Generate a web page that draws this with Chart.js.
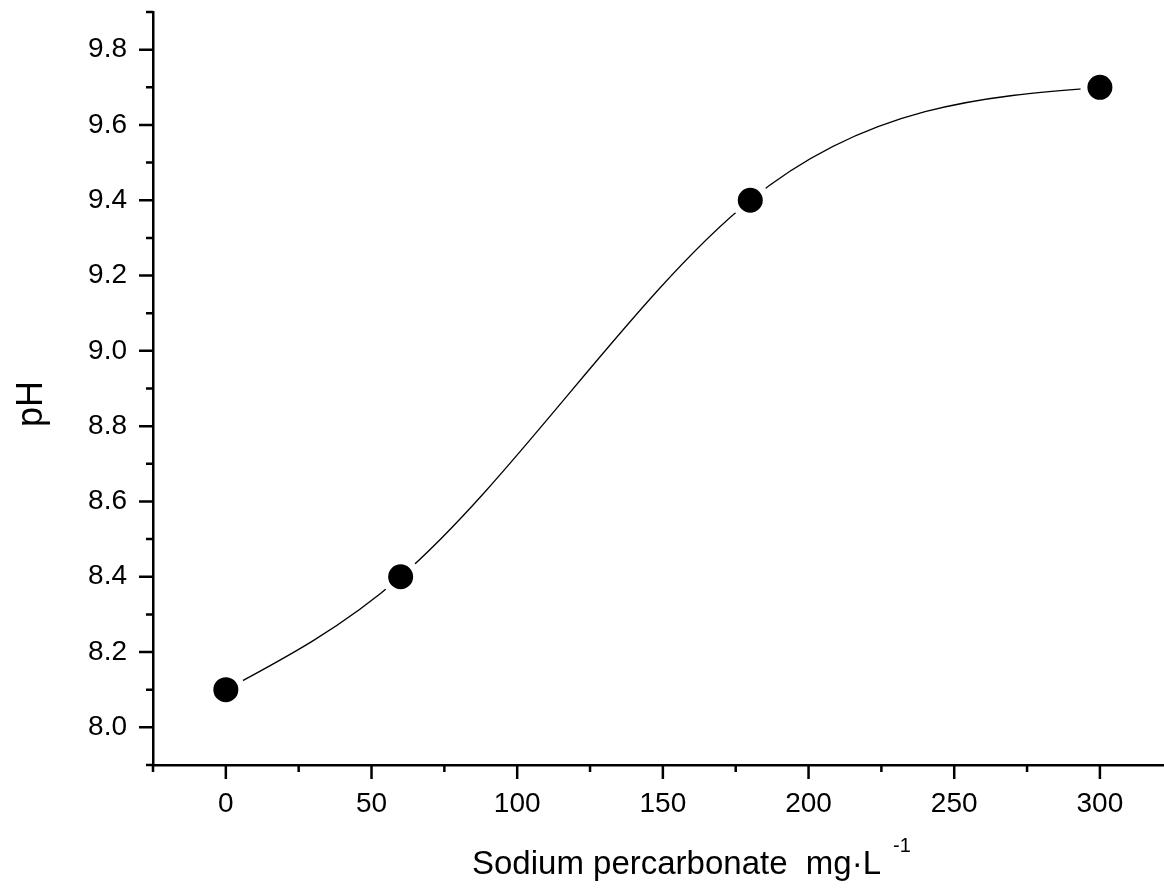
<!DOCTYPE html>
<html>
<head>
<meta charset="utf-8">
<script src="https://cdn.jsdelivr.net/npm/chart.js@4"></script>
<style>
html,body{margin:0;padding:0;background:#fff}
#c{display:block}
</style>
</head>
<body>
<canvas id="c" width="1164" height="890"></canvas>
<script>
// data
const dose=[0,60,180,300];
const ph=[8.1,8.4,9.4,9.7];
const xTicks=[-25,0,25,50,75,100,125,150,175,200,225,250,275,300];
const yTicks=[7.9,8.0,8.1,8.2,8.3,8.4,8.5,8.6,8.7,8.8,8.9,9.0,9.1,9.2,9.3,9.4,9.5,9.6,9.7,9.8,9.9];
const xTitle='Sodium percarbonate  mg\u00b7L';
const xTitleSup='-1';
const yTitle='pH';

const FONT='"Liberation Sans", Arial, sans-serif';

// slopes of a natural cubic spline through (xs, ys)
function splineSlopes(xs,ys){
  const n=xs.length,h=[],d=[];
  for(let i=0;i<n-1;i++){h.push(xs[i+1]-xs[i]);d.push((ys[i+1]-ys[i])/h[i]);}
  const M=new Array(n).fill(0);
  const a=[],b=[],c=[],r=[];
  for(let i=1;i<n-1;i++){a.push(h[i-1]);b.push(2*(h[i-1]+h[i]));c.push(h[i]);r.push(6*(d[i]-d[i-1]));}
  const m=b.length;
  for(let i=1;i<m;i++){const w=a[i]/b[i-1];b[i]-=w*c[i-1];r[i]-=w*r[i-1];}
  for(let i=m-1;i>=0;i--){M[i+1]=(r[i]-(i<m-1?c[i]*M[i+2]:0))/b[i];}
  const s=[];
  for(let i=0;i<n-1;i++)s.push(d[i]-h[i]*(2*M[i]+M[i+1])/6);
  s.push(d[n-2]+h[n-2]*(2*M[n-1]+M[n-2])/6);
  return s;
}

// line drawn by Chart.js, with bezier handles taken from a natural spline
const naturalSpline={
  id:'naturalSpline',
  beforeDatasetDraw(chart,args){
    const meta=args.meta,line=meta.dataset;
    if(!line)return;
    const {x,y}=chart.scales;
    line.updateControlPoints(chart.chartArea,'x');
    const sl=splineSlopes(dose,ph);
    const pts=meta.data;
    for(let i=0;i<pts.length;i++){
      if(i<pts.length-1){
        const h=(dose[i+1]-dose[i])/3;
        pts[i].cp2x=x.getPixelForValue(dose[i]+h);
        pts[i].cp2y=y.getPixelForValue(ph[i]+sl[i]*h);
      }
      if(i>0){
        const h=(dose[i]-dose[i-1])/3;
        pts[i].cp1x=x.getPixelForValue(dose[i]-h);
        pts[i].cp1y=y.getPixelForValue(ph[i]-sl[i]*h);
      }
    }
    line._path=undefined;
  }
};

// outward tick marks (long/short) + axis titles
const axisMarks={
  id:'axisMarks',
  afterDraw(chart){
    const {ctx,chartArea:a,scales:{x,y}}=chart;
    ctx.save();
    ctx.strokeStyle='#000';
    ctx.lineWidth=2.5;
    ctx.beginPath();
    xTicks.forEach(v=>{
      const px=x.getPixelForValue(v);
      const len=v%50===0?14:7;
      ctx.moveTo(px,a.bottom);ctx.lineTo(px,a.bottom+len);
    });
    yTicks.forEach(v=>{
      const py=y.getPixelForValue(v);
      const len=Math.round(v*10)%2===0?14:7;
      ctx.moveTo(a.left,py);ctx.lineTo(a.left-len,py);
    });
    ctx.stroke();

    ctx.fillStyle='#000';
    ctx.textBaseline='alphabetic';
    ctx.textAlign='left';
    ctx.font='33px '+FONT;
    ctx.fillText(xTitle,472,874);
    const w=ctx.measureText(xTitle).width;
    ctx.font='20px '+FONT;
    ctx.fillText(xTitleSup,472+w+12,852);

    ctx.translate(42,404);
    ctx.rotate(-Math.PI/2);
    ctx.font='36px '+FONT;
    ctx.textAlign='center';
    ctx.fillText(yTitle,0,0);
    ctx.restore();
  }
};

function noPad(s){s.paddingTop=0;s.paddingBottom=0;s.paddingLeft=0;s.paddingRight=0;}

function drawChart(){
  const ctx=document.getElementById('c').getContext('2d');
  new Chart(ctx,{
    type:'line',
    data:{datasets:[{
      data:dose.map((d,i)=>({x:d,y:ph[i]})),
      borderColor:'#000',
      borderWidth:1.3,
      tension:0.4,
      fill:false,
      pointRadius:16,
      pointBorderWidth:7,
      pointBorderColor:'#fff',
      pointBackgroundColor:'#000'
    }]},
    options:{
      responsive:false,
      animation:false,
      events:[],
      layout:{autoPadding:false,padding:{top:12,right:0,bottom:0,left:0}},
      plugins:{legend:{display:false},tooltip:{enabled:false}},
      scales:{
        x:{
          type:'linear',min:-25,max:322,
          afterBuildTicks:s=>{s.ticks=xTicks.map(v=>({value:v}));},
          afterFit:s=>{s.height=125;noPad(s);},
          grid:{display:false,drawTicks:false},
          border:{display:true,color:'#000',width:2.5},
          ticks:{
            autoSkip:false,maxRotation:0,padding:22,color:'#000',
            font:{family:FONT,size:28},
            callback:v=>(v>=0&&v%50===0)?String(v):null
          }
        },
        y:{
          type:'linear',min:7.9,max:9.9,
          afterBuildTicks:s=>{s.ticks=yTicks.map(v=>({value:v}));},
          afterFit:s=>{s.width=153;noPad(s);},
          grid:{display:false,drawTicks:false},
          border:{display:true,color:'#000',width:2.5},
          ticks:{
            autoSkip:false,padding:26,color:'#000',
            font:{family:FONT,size:28},
            callback:v=>{const k=Math.round(v*10);return (k%2===0&&k>=80&&k<=98)?v.toFixed(1):null;}
          }
        }
      }
    },
    plugins:[naturalSpline,axisMarks]
  });
}
drawChart();
</script>
</body>
</html>
